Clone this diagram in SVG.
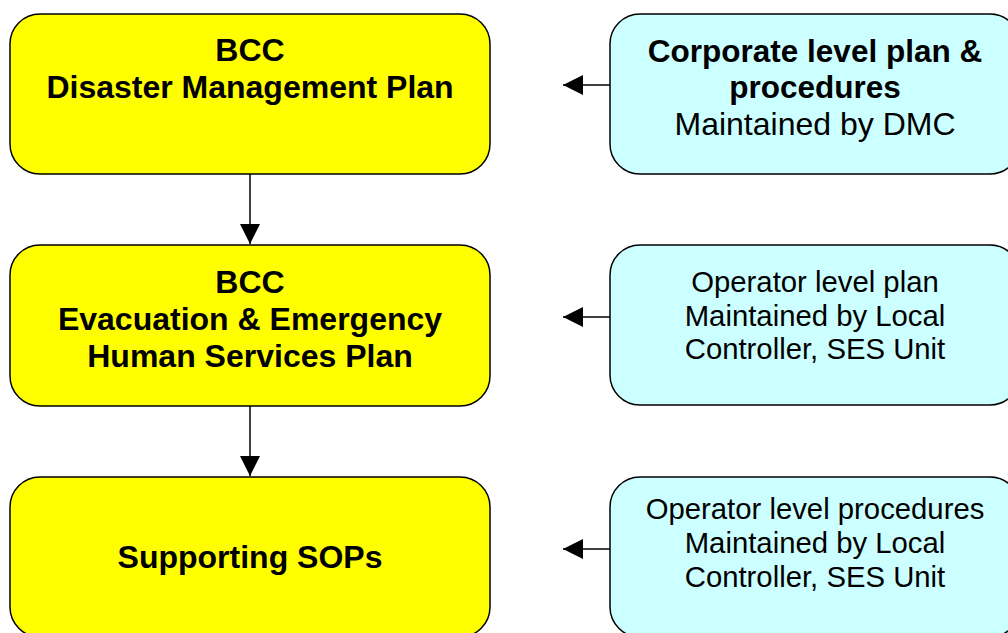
<svg xmlns="http://www.w3.org/2000/svg" width="1008" height="633" viewBox="0 0 1008 633">
<defs>
<style>
.y{fill:#FFFF00;stroke:#000;stroke-width:1.5}
.c{fill:#CCFFFF;stroke:#000;stroke-width:1.5}
.b{font-family:"Liberation Sans",Arial,sans-serif;font-weight:bold;font-size:32px;fill:#000;text-anchor:middle}
.b2{font-family:"Liberation Sans",Arial,sans-serif;font-weight:bold;font-size:31.5px;fill:#000;text-anchor:middle}
.r{font-family:"Liberation Sans",Arial,sans-serif;font-size:32px;fill:#000;text-anchor:middle}
.r2{font-family:"Liberation Sans",Arial,sans-serif;font-size:29.3px;fill:#000;text-anchor:middle}
.ln{stroke:#000;stroke-width:1.5;fill:none}
</style>
<marker id="ah" viewBox="0 0 20 20" refX="20" refY="10" markerWidth="20" markerHeight="20" markerUnits="userSpaceOnUse" orient="auto">
<path d="M0,0 L20,10 L0,20 Z" fill="#000"/>
</marker>
</defs>
<g id="connectors">
<line class="ln" x1="250" y1="174" x2="250" y2="244" marker-end="url(#ah)"/>
<line class="ln" x1="250" y1="406" x2="250" y2="476" marker-end="url(#ah)"/>
<line class="ln" x1="610" y1="85" x2="563" y2="85" marker-end="url(#ah)"/>
<line class="ln" x1="610" y1="317" x2="563" y2="317" marker-end="url(#ah)"/>
<line class="ln" x1="610" y1="549" x2="563" y2="549" marker-end="url(#ah)"/>
</g>
<g id="dmp">
<rect class="y" x="10" y="14" width="480" height="160" rx="30" ry="30"/>
<text class="b" x="250" y="61">BCC</text>
<text class="b" x="250" y="98">Disaster Management Plan</text>
</g>
<g id="eehsp">
<rect class="y" x="10" y="245" width="480" height="161" rx="30" ry="30"/>
<text class="b" x="250" y="293">BCC</text>
<text class="b" x="250" y="330">Evacuation &amp; Emergency</text>
<text class="b" x="250" y="367">Human Services Plan</text>
</g>
<g id="sops">
<rect class="y" x="10" y="477" width="480" height="160" rx="30" ry="30"/>
<text class="b" x="250" y="568">Supporting SOPs</text>
</g>
<g id="corporate">
<rect class="c" x="610" y="14" width="410" height="160" rx="30" ry="30"/>
<text class="b2" x="815" y="62">Corporate level plan &amp;</text>
<text class="b2" x="815" y="98">procedures</text>
<text class="r" x="815" y="135">Maintained by DMC</text>
</g>
<g id="operator-plan">
<rect class="c" x="610" y="245" width="410" height="160" rx="30" ry="30"/>
<text class="r2" x="815" y="292">Operator level plan</text>
<text class="r2" x="815" y="326">Maintained by Local</text>
<text class="r2" x="815" y="359">Controller, SES Unit</text>
</g>
<g id="operator-procedures">
<rect class="c" x="610" y="477" width="410" height="160" rx="30" ry="30"/>
<text class="r2" x="815" y="519">Operator level procedures</text>
<text class="r2" x="815" y="553">Maintained by Local</text>
<text class="r2" x="815" y="587">Controller, SES Unit</text>
</g>
</svg>
